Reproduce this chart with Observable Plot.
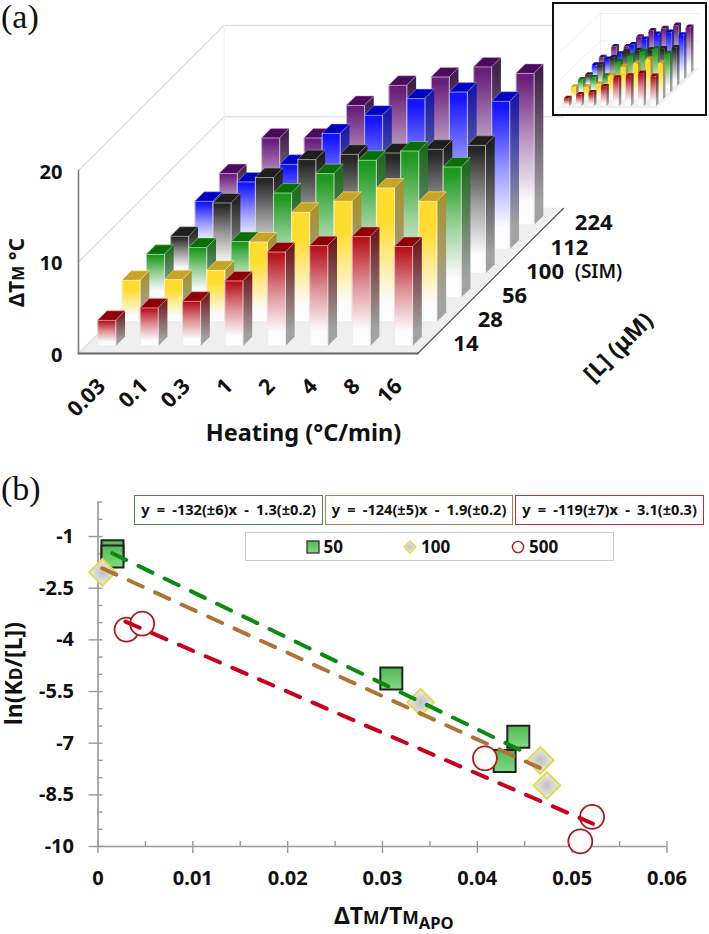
<!DOCTYPE html>
<html>
<head>
<meta charset="utf-8">
<script src="https://cdn.jsdelivr.net/npm/d3@7"></script>
<script src="https://cdn.jsdelivr.net/npm/@observablehq/plot@0.6"></script>
<style>
  html,body{margin:0;padding:0;background:#fff;overflow:hidden}
  #page{position:relative;width:709px;height:934px;font-family:"Noto Sans",sans-serif;font-weight:700;color:#111}
  #page svg{position:absolute;background:transparent}
  .tag{position:absolute;font-family:"Liberation Serif",serif;font-weight:400;font-size:34px;line-height:34px;left:1px}
  .eq{position:absolute;top:495px;height:30px;box-sizing:border-box;border:1.6px solid;background:#fff;font-size:14.6px;line-height:26.5px;text-align:center;white-space:nowrap;word-spacing:3.4px;font-weight:700}
  .leg{position:absolute;left:245px;top:532px;width:369px;height:29px;box-sizing:border-box;border:1.6px solid #ccc;background:#fff}
  .lab{position:absolute;font-size:17px;line-height:17px;top:538px}
  .sw{position:absolute;width:16px;height:16px;top:538.5px}
</style>
</head>
<body>
<div id="page"></div>
<script>
// ---------- panel (a) data ----------
const heating = ["0.03","0.1","0.3","1","2","4","8","16"];
const ligand = ["14","28","56","100","112","224"];
const row14  = [2.84,4.19,4.92,7.14,10.3,11.0,12.0,10.9];
const row28  = [4.57,4.64,5.66,8.75,12.0,13.2,14.65,13.2];
const row56  = [4.76,5.5,6.15,11.46,13.58,15.04,16.05,14.3];
const row100 = [4.09,7.73,10.5,12.47,13.05,13.19,13.6,14.03];
const row112 = [5.27,7.38,9.31,12.67,14.67,16.49,17.2,16.2];
const row224 = [5.65,9.54,9.54,13.1,15.3,16.2,17.3,16.6];
const rows = [row14,row28,row56,row100,row112,row224];
const faceColors = ["#b8141e","#ffdc30","#1c981c","#262626","#1414ff","#6a1f7c"];
const topColors  = ["#8e0005","#c6a526","#0b6e0b","#1e1e1e","#0000c4","#4c0a5c"];
const sideColors = ["#6e1a20","#a8922f","#1f6a1f","#202020","#1a1aa8","#42204a"];
const valueTicks = [0,10,20];

// ---------- panel (b) data ----------
const sq50x = [0.00153,0.00153,0.03093,0.04432,0.04288];
const sq50y = [-1.43,-1.58,-5.12,-6.81,-7.52];
const di100x = [0.00047,0.03402,0.04664,0.04734];
const di100y = [-2.04,-5.81,-7.50,-8.23];
const ci500x = [0.00301,0.00466,0.0408,0.0521,0.05086];
const ci500y = [-3.70,-3.53,-7.44,-9.14,-9.85];
const fitGreen = [[0.0015,-1.484],[0.04446,-7.19]];
const fitBrown = [[0.00044,-1.92],[0.047,-7.77]];
const fitRed   = [[0.0029,-3.47],[0.0522,-9.34]];
const xMajor = [0,0.01,0.02,0.03,0.04,0.05,0.06];
const xMinor = [0,0.005,0.01,0.015,0.02,0.025,0.03,0.035,0.04,0.045,0.05,0.055,0.06];
const yMajor = [-1,-2.5,-4,-5.5,-7,-8.5,-10];
const yMinor = d3.range(0,21).map(i => -i/2);
const equations = [
  ["y = -132(±6)x - 1.3(±0.2)", "#3f8f46", 134, 189],
  ["y = -124(±5)x - 1.9(±0.2)", "#b07d4c", 325, 188],
  ["y = -119(±7)x - 3.1(±0.3)", "#c62b3a", 515, 189]
];

// ---------- helpers ----------
const FONT = '"Noto Sans",sans-serif';
const page = document.getElementById("page");

// text render: |x| makes x a small capital, _x_ a subscript
function rich(index, scales, values, dims, ctx, next) {
  const g = next(index, scales, values, dims, ctx);
  g.querySelectorAll("text").forEach(t => {
    const parts = t.textContent.split(/(\|[^|]*\||_[^_]*_)/);
    t.textContent = "";
    parts.forEach(p => {
      if (!p) return;
      const ts = document.createElementNS("http://www.w3.org/2000/svg","tspan");
      if (p[0]==="|") { ts.textContent = p.slice(1,-1); ts.setAttribute("font-size","76%"); }
      else if (p[0]==="_") { ts.textContent = p.slice(1,-1); ts.setAttribute("font-size","72%"); ts.setAttribute("dy","0.3em"); }
      else ts.textContent = p;
      t.appendChild(ts);
    });
  });
  return g;
}

function stop(parent, offset, color) {
  parent.append("stop").attr("offset", offset).attr("stop-color", color);
}
function defsMark() {
  const defs = d3.create("svg:defs");
  const vertical = id => defs.append("linearGradient").attr("id",id).attr("x1",0).attr("y1",0).attr("x2",0).attr("y2",1);
  faceColors.forEach((c,j) => {
    const f = vertical(`face${j}`);
    stop(f,0,c); stop(f,j===1?0.25:0.04,c);
    if (j!==1) stop(f,0.45,d3.interpolateRgb(c,"#ffffff")(0.55));
    stop(f,0.85,"#fcfcfe");
    const s = vertical(`side${j}`);
    stop(s,0,sideColors[j]); stop(s,0.06,sideColors[j]); stop(s,0.85,"#a2a2a2");
    const e = vertical(`edge${j}`);
    stop(e,0,d3.interpolateRgb(c,"#ffffff")(0.62)); stop(e,0.8,"#ebebeb");
  });
  const q = vertical("sqFill");
  stop(q,0,"#52ba52"); stop(q,1,"#84d884");
  const d = defs.append("radialGradient").attr("id","diFill");
  stop(d,0,"#bfbfbf"); stop(d,1,"#eeeeee");
  const r = defs.append("radialGradient").attr("id","ciFill");
  stop(r,0,"#ffffff"); stop(r,1,"#f6f6f6");
  return defs.node();
}

function quad(a,b,c,d,opts) {
  return Plot.area(
    [{x1:a.x,y1:a.y,x2:d.x,y2:d.y},{x1:b.x,y1:b.y,x2:c.x,y2:c.y}],
    {x1:"x1",x2:"x2",y1:"y1",y2:"y2",...opts}
  );
}

function barMarks(P, edgeWidth, radius) {
  const marks = [];
  for (let j = rows.length-1; j >= 0; j--) {
    const edge = d3.interpolateRgb(faceColors[j],"#ffffff")(0.62);
    rows[j].forEach((v,i) => {
      const l=i+0.30, r=i+0.725, f=j+0.29, b=j+0.67;
      const fb=P(l,f,0), ft=P(r,f,v);
      marks.push(quad(P(r,f,v),P(r,b,v),P(r,b,0),P(r,f,0),{fill:`url(#side${j})`}));
      marks.push(Plot.rect([0],{x1:fb.x,x2:ft.x,y1:fb.y,y2:ft.y,fill:`url(#face${j})`,stroke:`url(#edge${j})`,strokeWidth:edgeWidth,rx:radius}));
      marks.push(quad(P(l,f,v),P(l,b,v),P(r,b,v),P(r,f,v),{fill:topColors[j],stroke:radius?"none":edge,strokeWidth:edgeWidth*0.5}));
    });
  }
  return marks;
}

function wallMarks(P, grid, gridW, floorFill) {
  const seg = (a,b,o) => Plot.line([a,b],{x:"x",y:"y",...o});
  return [
    quad(P(0,0,0),P(8,0,0),P(8,6,0),P(0,6,0),{fill:floorFill}),
    seg(P(0,0,0),P(0,6,0),{stroke:grid,strokeWidth:gridW}),
    seg(P(0,0,10),P(0,6,10),{stroke:grid,strokeWidth:gridW}),
    seg(P(0,0,20),P(0,6,20),{stroke:grid,strokeWidth:gridW}),
    seg(P(0,6,10),P(8,6,10),{stroke:grid,strokeWidth:gridW}),
    seg(P(0,6,20),P(8,6,20),{stroke:grid,strokeWidth:gridW}),
    seg(P(0,6,0),P(0,6,20),{stroke:"#f1f1f1",strokeWidth:gridW})
  ];
}

// ---------- panel (a) main chart ----------
{
  const unitX=42.4, unitY=9.15, originX=78, originY=353, W=709, H=450;
  const kx=24.3/unitX, ky=24.2/unitY;
  const P=(i,d,v)=>({x:i+d*kx,y:v+d*ky});
  const seg=(a,b,o)=>Plot.line([a,b],{x:"x",y:"y",...o});
  const chart = Plot.plot({
    width:W,height:H,margin:0,
    x:{type:"linear",domain:[-originX/unitX,(W-originX)/unitX],range:[0,W],axis:null},
    y:{type:"linear",domain:[(originY-H)/unitY,originY/unitY],range:[H,0],axis:null},
    style:{fontFamily:FONT,fontWeight:700,background:"transparent"},
    marks:[
      defsMark,
      ...wallMarks(P,"#dedede",1.2,"#efefef"),
      ...barMarks(P,1,0),
      seg(P(0,0,0),P(0,0,20),{stroke:"#777",strokeWidth:1.5}),
      seg(P(0,0,0),P(8,0,0),{stroke:"#666",strokeWidth:2}),
      seg(P(8,0,0),P(8,6,0),{stroke:"#555",strokeWidth:1.2}),
      Plot.text(valueTicks,{x:-16/unitX,y:d=>d,dy:2,text:d=>String(d),textAnchor:"end",fontSize:20,fill:"#111"}),
      Plot.text(heating,{x:(d,i)=>i+0.55,y:-3.2,text:d=>d,rotate:-45,textAnchor:"end",fontSize:21.5,fill:"#111"}),
      Plot.text(ligand,{x:(d,j)=>P(8,j+0.5,0).x+23.5/unitX,y:(d,j)=>P(8,j+0.5,0).y-3/unitY,text:d=>d,textAnchor:"start",fontSize:22,fill:"#111"}),
      Plot.text(["(SIM)"],{x:P(8,3.5,0).x+72/unitX,y:P(8,3.5,0).y-3/unitY,text:d=>d,textAnchor:"start",fontSize:19,fontWeight:600,fill:"#111"}),
      Plot.text(["ΔT|M| °C"],{x:-61/unitX,y:8.85,text:d=>d,rotate:-90,fontSize:21,fill:"#111",render:rich}),
      Plot.text(["Heating (°C/min)"],{x:(303-originX)/unitX,y:(originY-433)/unitY,text:d=>d,fontSize:23.5,fill:"#111"}),
      Plot.text(["[L] (μM)"],{x:(618-originX)/unitX,y:(originY-347)/unitY,text:d=>d,rotate:-45,fontSize:23,fill:"#111"})
    ]
  });
  chart.style.left="0px"; chart.style.top="0px";
  page.appendChild(chart);
}

// ---------- inset ----------
{
  const unitX=12.4, unitY=2.75, originX=6, originY=106, W=155, H=114;
  const kx=7/unitX, ky=6.67/unitY;
  const P=(i,d,v)=>({x:i+d*kx,y:v+d*ky});
  const inset = Plot.plot({
    width:W,height:H,margin:0,
    x:{type:"linear",domain:[-originX/unitX,(W-originX)/unitX],range:[0,W],axis:null},
    y:{type:"linear",domain:[(originY-H)/unitY,originY/unitY],range:[H,0],axis:null},
    style:{background:"#fff"},
    marks:[
      ...wallMarks(P,"#f0f0f0",1,"#f0f0f0"),
      ...barMarks(P,0,1.5)
    ]
  });
  inset.style.cssText="position:absolute;left:552px;top:2px;background:#fff;outline:2.5px solid #111;outline-offset:-2.5px";
  page.appendChild(inset);
}

// ---------- panel (b) ----------
{
  const pts=(xs,ys)=>xs.map((x,i)=>({x,y:ys[i]}));
  const fit=(f,stroke)=>Plot.line(f,{x:d=>d[0],y:d=>d[1],stroke,strokeWidth:4,strokeDasharray:"15.5 13.6"});
  const chart = Plot.plot({
    width:709,height:464,marginLeft:97.5,marginRight:42.5,marginTop:31.6,marginBottom:88,
    x:{domain:[0,0.06]},
    y:{domain:[-10,0]},
    style:{fontFamily:FONT,fontWeight:700,background:"transparent"},
    marks:[
      Plot.ruleX([0],{y1:-10,y2:0,stroke:"#999",strokeWidth:1.6}),
      Plot.ruleY([-10],{stroke:"#999",strokeWidth:1.6}),
      Plot.axisY({ticks:yMinor,tickSize:-5,text:null,stroke:"#999",strokeWidth:1.4,label:null}),
      Plot.axisY({ticks:yMajor,tickSize:9,tickPadding:15,tickFormat:d=>String(d),fontSize:20,stroke:"#999",strokeWidth:1.4,label:null,fill:"#111"}),
      Plot.axisX({ticks:xMinor,tickSize:-5,text:null,stroke:"#999",strokeWidth:1.4,label:null}),
      Plot.axisX({ticks:xMajor,tickSize:7,tickPadding:17,tickFormat:d=>String(d),fontSize:20,stroke:"#999",strokeWidth:1.4,label:null,fill:"#111"}),
      Plot.dot(pts(sq50x,sq50y),{x:"x",y:"y",symbol:"square",r:12.4,fill:"url(#sqFill)",stroke:"#222",strokeWidth:2}),
      Plot.dot(pts(di100x,di100y),{x:"x",y:"y",symbol:"diamond2",r:12,fill:"url(#diFill)",stroke:"#e2d94e",strokeWidth:2}),
      Plot.dot(pts(ci500x,ci500y),{x:"x",y:"y",symbol:"circle",r:12,fill:"url(#ciFill)",stroke:"#a32025",strokeWidth:1.8}),
      fit(fitGreen,"#0a8a10"),
      fit(fitBrown,"#ae7436"),
      fit(fitRed,"#c8001e"),
      Plot.text(["ln(K|D|/[L])"],{x:-83/9480,y:-4.98,text:d=>d,rotate:-90,fontSize:23,fill:"#111",render:rich}),
      Plot.text(["ΔT|M|/T|M|_APO_"],{x:0.0312,y:-12.05,text:d=>d,fontSize:23,fill:"#111",render:rich})
    ]
  });
  chart.style.left="0px"; chart.style.top="470px";
  page.appendChild(chart);
}

// ---------- html legend, equations, panel tags ----------
function addDiv(cls, text, css){
  const el=document.createElement("div");
  el.className=cls; if(text) el.textContent=text;
  Object.assign(el.style,css||{});
  page.appendChild(el);
  return el;
}
addDiv("tag","(a)",{top:"0px"});
addDiv("tag","(b)",{top:"472px"});
equations.forEach(([t,c,l,w])=>addDiv("eq",t,{left:l+"px",width:w+"px",borderColor:c}));
addDiv("leg");
function swatch(left,shape){
  const el=addDiv("sw","",{left:left+"px"});
  el.innerHTML=`<svg width="16" height="16" style="position:static;display:block">${shape}</svg>`;
}
swatch(304.5,'<rect x="2" y="2" width="12" height="12" fill="url(#sqFill)" stroke="#333" stroke-width="1.3"/>');
swatch(402,'<path d="M8 2L14 8L8 14L2 8Z" fill="url(#diFill)" stroke="#e2d94e" stroke-width="1.3"/>');
swatch(509.7,'<circle cx="8" cy="8" r="5.6" fill="#f7f7f7" stroke="#a32025" stroke-width="1.4"/>');
addDiv("lab","50",{left:"323.5px"});
addDiv("lab","100",{left:"421px"});
addDiv("lab","500",{left:"529px"});
</script>
</body>
</html>
